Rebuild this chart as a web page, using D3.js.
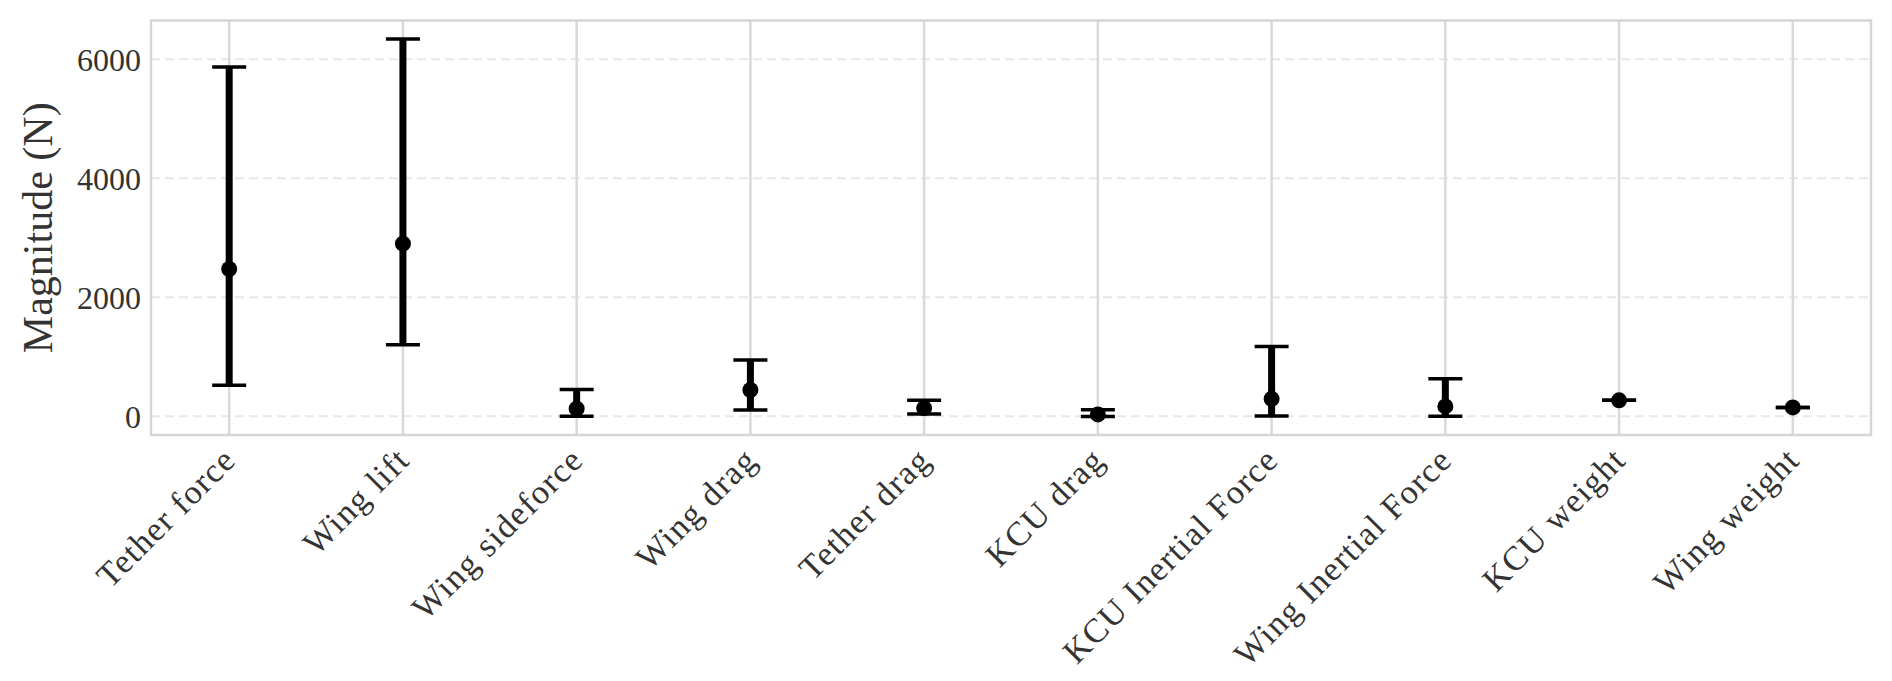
<!DOCTYPE html>
<html>
<head>
<meta charset="utf-8">
<script src="https://cdn.jsdelivr.net/npm/d3@7"></script>
<style>
  html, body { margin: 0; padding: 0; background: #fff; }
  text { font-family: "Liberation Serif", "Times New Roman", serif; fill: #333; }
</style>
</head>
<body>
<div id="chart"></div>
<script>
const categories = [
    "Tether force", "Wing lift", "Wing sideforce", "Wing drag", "Tether drag",
    "KCU drag", "KCU Inertial Force", "Wing Inertial Force", "KCU weight", "Wing weight"
];
const means = [2474, 2899, 126, 440, 137, 30, 292, 165, 266, 148];
const lowers = [518, 1202, 0, 104, 36, -5, 5, 0, 266, 148];
const uppers = [5869, 6339, 450, 944, 266, 110, 1170, 630, 266, 148];
const yTicks = [0, 2000, 4000, 6000];

const W = 1892, H = 681;
const frame = { left: 151, top: 20.5, right: 1871, bottom: 435 };

const svg = d3.select("#chart")
    .append("svg")
    .attr("width", W)
    .attr("height", H);

const data = categories.map((c, i) => ({ name: c, mean: means[i], lo: lowers[i], hi: uppers[i] }));

// Scales
const x = d3.scalePoint()
    .domain(categories)
    .range([frame.left, frame.right])
    .padding(0.45);

const y = d3.scaleLinear()
    .domain([-316, 6650])
    .range([frame.bottom, frame.top]);

// Grid
svg.append("g")
    .selectAll("line")
    .data(yTicks)
    .enter()
    .append("line")
    .attr("x1", frame.left)
    .attr("x2", frame.right)
    .attr("y1", d => y(d))
    .attr("y2", d => y(d))
    .attr("stroke", "#e8e8e8")
    .attr("stroke-width", 2)
    .attr("stroke-dasharray", "9,5");

svg.append("g")
    .selectAll("line")
    .data(categories)
    .enter()
    .append("line")
    .attr("x1", d => x(d))
    .attr("x2", d => x(d))
    .attr("y1", frame.top)
    .attr("y2", frame.bottom)
    .attr("stroke", "#d9d9d9")
    .attr("stroke-width", 2.5);

// Frame
svg.append("rect")
    .attr("x", frame.left)
    .attr("y", frame.top)
    .attr("width", frame.right - frame.left)
    .attr("height", frame.bottom - frame.top)
    .attr("fill", "none")
    .attr("stroke", "#d6d6d6")
    .attr("stroke-width", 2.5);

// Y axis
const yAxis = svg.append("g")
    .attr("transform", `translate(${frame.left}, 0)`)
    .call(d3.axisLeft(y).tickValues(yTicks).tickSize(0).tickPadding(10).tickFormat(d3.format("d")));
yAxis.select(".domain").remove();
yAxis.selectAll("text")
    .style("font-size", "32px")
    .attr("dy", "0.34em");

// X axis labels
const xAxis = svg.append("g")
    .attr("transform", `translate(0, ${frame.bottom})`)
    .call(d3.axisBottom(x).tickSize(0).tickPadding(0));
xAxis.select(".domain").remove();
xAxis.selectAll("text")
    .style("font-size", "34px")
    .style("letter-spacing", "1.3px")
    .attr("text-anchor", "end")
    .attr("y", 0)
    .attr("dy", 0)
    .attr("transform", "translate(8, 27) rotate(-45)");

// Error bars
const bars = svg.append("g").selectAll("g")
    .data(data)
    .enter()
    .append("g");

bars.append("line")
    .attr("x1", d => x(d.name))
    .attr("x2", d => x(d.name))
    .attr("y1", d => y(d.lo))
    .attr("y2", d => y(d.hi))
    .attr("stroke", "#000")
    .attr("stroke-width", 7);

bars.selectAll(".cap")
    .data(d => [{ name: d.name, v: d.lo }, { name: d.name, v: d.hi }])
    .enter()
    .append("line")
    .attr("class", "cap")
    .attr("x1", d => x(d.name) - 17)
    .attr("x2", d => x(d.name) + 17)
    .attr("y1", d => y(d.v))
    .attr("y2", d => y(d.v))
    .attr("stroke", "#000")
    .attr("stroke-width", 3.5);

bars.append("circle")
    .attr("cx", d => x(d.name))
    .attr("cy", d => y(d.mean))
    .attr("r", 8)
    .attr("fill", "#000");

// Y label
svg.append("text")
    .attr("transform", `translate(52, ${(frame.top + frame.bottom) / 2}) rotate(-90)`)
    .attr("text-anchor", "middle")
    .style("font-size", "42px")
    .text("Magnitude (N)");
</script>
</body>
</html>
